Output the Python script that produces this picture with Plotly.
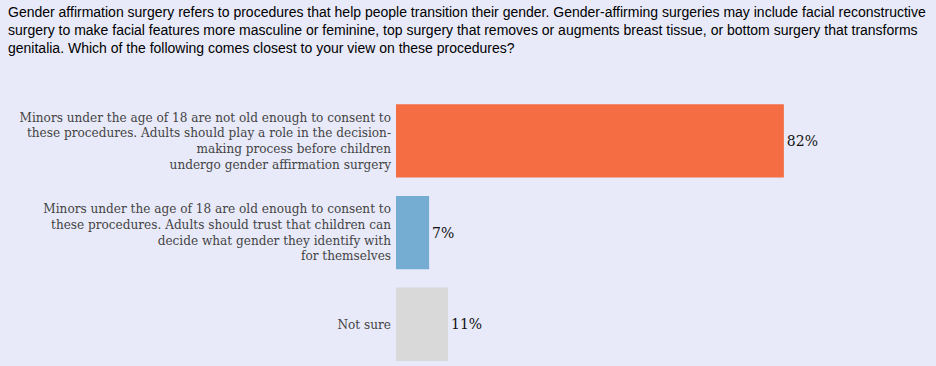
import plotly.graph_objects as go

categories = [
    "Minors under the age of 18 are not old enough to consent to<br>these procedures. Adults should play a role in the decision-<br>making process before children<br>undergo gender affirmation surgery",
    "Minors under the age of 18 are old enough to consent to<br>these procedures. Adults should trust that children can<br>decide what gender they identify with<br>for themselves",
    "Not sure",
]
values = [82, 7, 11]
labels = ["82%", "7%", "11%"]
colors = ["#F46D43", "#74ADD1", "#D9D9D9"]

title_text = ("Gender affirmation surgery refers to procedures that help people transition their gender. Gender-affirming surgeries may include facial reconstructive<br>"
              "surgery to make facial features more masculine or feminine, top surgery that removes or augments breast tissue, or bottom surgery that transforms<br>"
              "genitalia. Which of the following comes closest to your view on these procedures?")

bg = "#E8EAF9"

fig = go.Figure(go.Bar(
    x=values, y=categories, orientation="h",
    marker=dict(color=colors, line=dict(width=0)),
    text=labels, textposition="outside", cliponaxis=False,
    textfont=dict(family="DejaVu Serif", size=14, color="#111"),
    width=0.8,
))

fig.update_layout(
    width=936, height=366,
    paper_bgcolor=bg, plot_bgcolor=bg,
    margin=dict(l=396, r=67, t=95, b=0),
    showlegend=False,
    xaxis=dict(range=[0, 100], visible=False, showgrid=False, zeroline=False),
    yaxis=dict(range=[2.455, -0.5], showgrid=False, zeroline=False, ticks="",
               tickfont=dict(family="DejaVu Serif", size=12.1, color="#444"),
               ticklabelstandoff=4),
)
fig.add_annotation(
    text=title_text, xref="paper", yref="paper",
    x=-390 / 473, y=1 + 93 / 271, xanchor="left", yanchor="top",
    align="left", showarrow=False,
    font=dict(family="Liberation Sans", size=14, color="#000"),
)

fig.write_html("out.html", config={"displayModeBar": False},
               post_script="document.body.style.margin='0';document.documentElement.style.overflow='hidden';")
